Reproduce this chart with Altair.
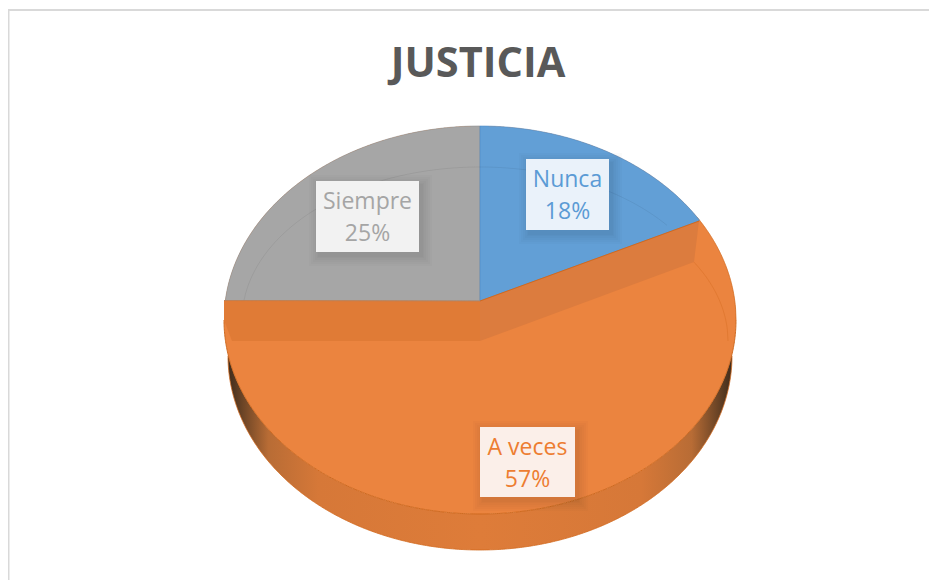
import altair as alt
import numpy as np
import pandas as pd

# ---- values
categories = ["Nunca", "A veces", "Siempre"]
shares = [18, 57, 25]
title_text = "JUSTICIA"
fills = ["#629FD6", "#EB843F", "#A6A6A6"]
text_colors = ["#5B9BD5", "#ED7D31", "#A5A5A5"]
box_fills = ["#EAF2FA", "#FBEFE9", "#F2F2F2"]

# ---- drawing geometry of the tilted pie (page pixels)
W, H = 921, 572
cx, cy, rx, ry = 480.0, 320.0, 256.0, 194.0
apex_y, drop, depth = 301.0, 40.0, 36.0
slope = 0.365
end_x = 699.0
box_x = [(526, 609), (480, 575), (316, 419)]
box_y = [(159, 230), (427, 497), (181, 252)]

x_scale = alt.Scale(domain=[8, 8 + W], range=[0, W], nice=False, zero=False)
y_scale = alt.Scale(domain=[8, 8 + H], range=[0, H], nice=False, zero=False)
xs = alt.X("x:Q", scale=x_scale, axis=None)
ys = alt.Y("y:Q", scale=y_scale, axis=None)
y2 = alt.Y2("y2:Q")


def arc(x, r_x=rx, r_y=ry, c_y=cy, sign=-1):
    return c_y + sign * r_y * np.sqrt(np.clip(1 - ((x - cx) / r_x) ** 2, 0, 1))


def area(x, top, bottom, **mark):
    d = pd.DataFrame({"x": x, "y": top, "y2": bottom})
    return alt.Chart(d).mark_area(interpolate="linear", **mark).encode(x=xs, y=ys, y2=y2)


def line(x, y, **mark):
    d = pd.DataFrame({"x": x, "y": y, "i": np.arange(len(x))})
    return alt.Chart(d).mark_line(interpolate="linear", **mark).encode(x=xs, y=ys, order="i:Q")


def grid(a, b, n=260):
    return np.linspace(a, b, n)


layers = []

# frame
layers.append(line(np.array([8.0, 8.0 + W]), np.array([10.0, 10.0]), color="#D9D9D9", strokeWidth=2))
layers.append(line(np.array([8.5, 8.5]), np.array([10.0, 8.0 + H]), color="#D9D9D9", strokeWidth=2))

# side wall of the orange slice, below the rim
x_all = cx + rx * np.cos(np.linspace(np.pi, 0, 420))
wall_grad = alt.LinearGradient(
    gradient="linear", x1=0, x2=1, y1=0, y2=0,
    stops=[
        alt.GradientStop(color="#3f2c1c", offset=0.0),
        alt.GradientStop(color="#6d4526", offset=0.03),
        alt.GradientStop(color="#B86C35", offset=0.08),
        alt.GradientStop(color="#D67838", offset=0.18),
        alt.GradientStop(color="#DE7C39", offset=0.5),
        alt.GradientStop(color="#D67838", offset=0.82),
        alt.GradientStop(color="#B86C35", offset=0.92),
        alt.GradientStop(color="#6d4526", offset=0.97),
        alt.GradientStop(color="#3f2c1c", offset=1.0),
    ],
)
x_wall = cx + (rx - 4) * np.cos(np.linspace(np.pi, 0, 420))
layers.append(area(x_wall, arc(x_wall, rx, ry, cy, 1), arc(x_wall, rx - 4, ry, cy + depth, 1), color=wall_grad))
layers.append(line(x_wall, arc(x_wall, rx - 4, ry, cy + depth, 1), color="#D2691E", strokeWidth=0.8))

# orange face
layers.append(area(x_all, arc(x_all), arc(x_all, sign=1), color=fills[1]))
layers.append(line(x_all, arc(x_all, sign=1), color="#CF6A20", strokeWidth=1))
x_r = grid(cx + 150, cx + rx)
layers.append(line(x_r[x_r > end_x - 2], arc(x_r[x_r > end_x - 2], sign=-1), color="#D2691E", strokeWidth=0.8))

# grey slice
xg = grid(cx - rx + 1, cx)
layers.append(area(xg, arc(xg), np.full_like(xg, apex_y), color=fills[2], stroke="#8E8E8E", strokeWidth=0.6))

# blue slice
xb = grid(cx, end_x)
layers.append(area(xb, arc(xb), apex_y - slope * (xb - cx), color=fills[0], stroke="#4F8CC6", strokeWidth=0.6))

# inner walls
xw = np.array([224.0, 232.0, cx])
layers.append(area(xw, np.array([300.0, 300.0, apex_y]), np.array([320.0, apex_y + drop, apex_y + drop]), color="#E07B36"))
xw2 = np.array([cx, 694.0, end_x])
layers.append(area(xw2, apex_y - slope * (xw2 - cx), np.array([apex_y + drop, 262.0, apex_y - slope * (end_x - cx)]), color="#DC7C3E"))
layers.append(line(np.array([cx, end_x]), np.array([apex_y, apex_y - slope * (end_x - cx)]), color="#D2691E", strokeWidth=1))
layers.append(line(np.array([224.0, cx]), np.array([300.5, apex_y]), color="#B5835F", strokeWidth=0.8))

# faint inner circle on the faces
xi = grid(244, 667)
yi = arc(xi, 238, 153)
keep = yi < np.where(xi < cx, apex_y, apex_y - slope * (xi - cx))
layers.append(line(xi[keep], yi[keep], color="#000000", opacity=0.06, strokeWidth=1))
xo = grid(694, 728, 60)
layers.append(line(xo, arc(xo, 248, 156, 341), color="#D2691E", opacity=0.5, strokeWidth=0.8))

# label boxes with soft shadow, then text
boxes = pd.DataFrame({
    "cat": categories,
    "x": [b[0] for b in box_x], "x2": [b[1] for b in box_x],
    "y": [b[0] for b in box_y], "y2": [b[1] for b in box_y],
    "label": categories,
    "pct": [f"{s}%" for s in shares],
})
for grow in [10, 8, 6, 4, 2, 1]:
    sh = boxes.copy()
    sh["x"] = sh["x"] - grow + 3
    sh["x2"] = sh["x2"] + grow + 3
    sh["y"] = sh["y"] - grow + 4
    sh["y2"] = sh["y2"] + grow + 4
    layers.append(alt.Chart(sh).mark_rect(color="#000000", opacity=0.016).encode(
        x=xs, x2="x2:Q", y=ys, y2=y2))
layers.append(alt.Chart(boxes).mark_rect().encode(
    x=xs, x2="x2:Q", y=ys, y2=y2,
    color=alt.Color("cat:N", scale=alt.Scale(domain=categories, range=box_fills), legend=None)))

boxes["xm"] = (boxes["x"] + boxes["x2"]) / 2
boxes["y1t"] = boxes["y"] + 20.5
boxes["y2t"] = boxes["y"] + 53
tc = alt.Color("cat:N", scale=alt.Scale(domain=categories, range=text_colors), legend=None)
for field, col in [("label", "y1t"), ("pct", "y2t")]:
    layers.append(alt.Chart(boxes).mark_text(font="Open Sans", fontSize=23, baseline="middle", align="center").encode(
        x=alt.X("xm:Q", scale=x_scale, axis=None),
        y=alt.Y(f"{col}:Q", scale=y_scale, axis=None),
        text=f"{field}:N", color=tc))

chart = alt.layer(*layers).properties(
    width=W, height=H,
    padding=0,
    autosize=alt.AutoSizeParams(type="none"),
    title=alt.TitleParams(title_text, anchor="middle", orient="top", font="Open Sans", fontSize=41.5,
                          fontWeight="bold", color="#595959", offset=0, dx=9.5, dy=79),
).configure_view(stroke=None).resolve_scale(color="independent")

chart.save("out.html", embed_options={"renderer": "svg", "actions": False})
